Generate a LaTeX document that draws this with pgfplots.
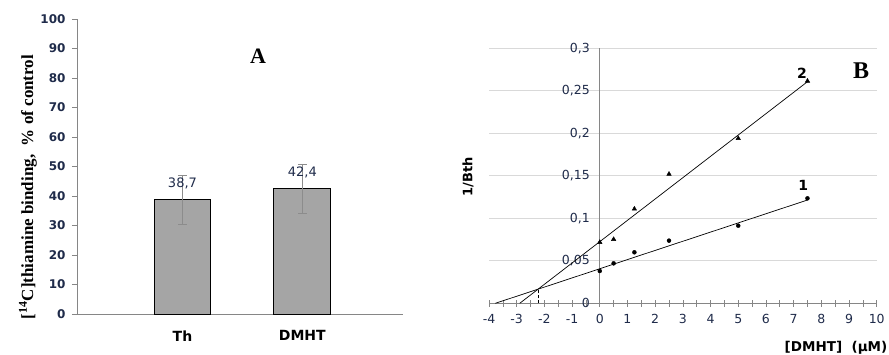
\documentclass[border=0pt]{standalone}
\usepackage{fontspec}
\setmainfont{Liberation Serif}
\newfontfamily\dv{DejaVu Sans}
\usepackage{pgfplots}
\pgfplotsset{compat=1.18}
\definecolor{navy}{HTML}{1F2B4A}
\definecolor{bargray}{HTML}{A5A5A5}
\definecolor{errgray}{HTML}{8C8C8C}
\definecolor{axisgray}{HTML}{868686}
\definecolor{gridgray}{HTML}{D9D9D9}
\begin{document}
\begin{tikzpicture}[x=1pt,y=1pt]
\useasboundingbox (0,0) rectangle (889,355);
% ---------------- Panel A ----------------
\begin{axis}[
  at={(77pt,41pt)}, anchor=south west, scale only axis,
  width=326pt, height=295pt,
  xmin=-0.88, xmax=1.84, ymin=0, ymax=100,
  axis x line*=bottom, axis y line*=left,
  axis line style={-, draw=axisgray, line width=0.8pt},
  ytick={0,10,...,100}, tick align=outside, major tick length=5pt,
  tick style={axisgray, line width=0.8pt},
  xtick={0,1}, xticklabels={Th,DMHT},
  x tick style={draw=none},
  yticklabel style={font=\dv\bfseries\fontsize{12}{12}\selectfont, text=navy, xshift=-3pt},
  xticklabel style={font=\dv\bfseries\fontsize{14}{14}\selectfont, text=black, yshift=-8pt},
  /pgf/number format/assume math mode=true,
  clip=false,
]
\addplot[ybar, bar width=0.475, fill=bargray, draw=black, line width=0.9pt,
  nodes near coords={\pgfmathprintnumber[fixed,precision=1,use comma]{\pgfplotspointmeta}},
  every node near coord/.append style={anchor=center, yshift=16.5pt, text=navy,
     font=\dv\fontsize{13}{13}\selectfont},
  error bars/.cd, y dir=both, y explicit,
  error bar style={errgray, line width=0.8pt},
  error mark options={errgray, mark size=4.5pt, line width=0.8pt, rotate=90}]
  coordinates {(0,38.7) +- (0,8.2) (1,42.4) +- (0,8.4)};
\end{axis}
\node[rotate=90, font=\bfseries\fontsize{17}{17}\selectfont] at (28,168) {[\textsuperscript{14}C]thiamine binding,\ \ \% of control};
\node[font=\bfseries\fontsize{22}{22}\selectfont] at (258,299) {A};
% ---------------- Panel B ----------------
\begin{axis}[
  at={(489pt,51.7pt)}, anchor=south west, scale only axis,
  width=387.7pt, height=255pt,
  xmin=-4, xmax=10, ymin=0, ymax=0.3,
  axis x line=middle, axis y line=middle,
  axis line style={-, draw=axisgray, line width=0.7pt},
  xtick={-4,-3,...,10}, minor x tick num=1,
  ytick={0,0.05,0.1,0.15,0.2,0.25,0.3},
  yticklabels={0,{0,05},{0,1},{0,15},{0,2},{0,25},{0,3}},
  hide obscured x ticks=false, hide obscured y ticks=false,
  ymajorgrids, grid style={gridgray, line width=0.7pt},
  tick align=center, major tick length=7pt, minor tick length=7pt,
  tick style={axisgray, line width=0.7pt},
  y tick style={draw=none},
  xticklabel style={font=\dv\fontsize{12.5}{12.5}\selectfont, text=navy, yshift=-4pt},
  yticklabel style={font=\dv\fontsize{12.5}{12.5}\selectfont, text=navy, xshift=-3pt},
  /pgf/number format/assume math mode=true,
  clip=false,
]
\addplot[black, line width=0.7pt] coordinates {(-3.77,0) (7.5,0.1215)};
\addplot[black, line width=0.7pt] coordinates {(-2.89,0) (7.5,0.2607)};
\addplot[black, densely dashed, line width=0.6pt] coordinates {(-2.23,0) (-2.23,0.0166)};
\addplot[only marks, mark=*, mark size=2pt, black] coordinates {
  (0,0.038) (0.5,0.047) (1.25,0.060) (2.5,0.0737) (5,0.0913) (7.5,0.1235)};
\addplot[only marks, mark=triangle*, mark size=2.6pt, black] coordinates {
  (0,0.0718) (0.5,0.0753) (1.25,0.111) (2.5,0.152) (5,0.194) (7.5,0.2615)};
\node[font=\dv\bfseries\fontsize{14}{14}\selectfont] at (axis cs:7.3,0.27) {2};
\node[font=\dv\bfseries\fontsize{14}{14}\selectfont] at (axis cs:7.35,0.139) {1};
\end{axis}
\node[rotate=90, font=\dv\bfseries\fontsize{13}{13}\selectfont] at (468,178) {1/Bth};
\node[font=\dv\bfseries\fontsize{13.5}{13.5}\selectfont] at (836,7) {[DMHT]\ \ (µM)};
\node[font=\bfseries\fontsize{24}{24}\selectfont] at (861,284) {B};
\end{tikzpicture}
\end{document}
